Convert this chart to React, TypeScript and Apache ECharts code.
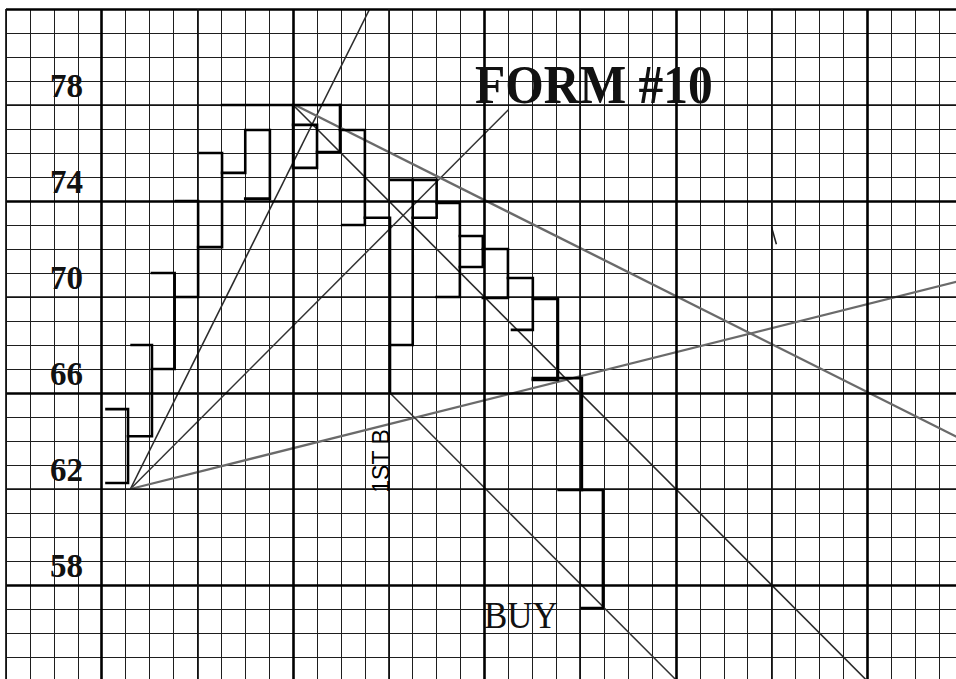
import React, { useEffect, useRef } from "react";
import * as echarts from "echarts";

// price scale tick labels (printed on the form)
const yTickLabels = [58, 62, 66, 70, 74, 78];
// heavy / medium ruling of the chart paper (price units and time units)
const thickPriceLines = [58, 66, 74, 82];
const mediumPriceLines = [54, 62, 70, 78];
const thickTimeLines = [4, 12, 20, 28, 36];
const mediumTimeLines = [0, 8, 16, 24, 32];

// swing bars drawn as bracket outlines: [time, price] points
const swingBars: number[][][] = [
  [[4.2, 65.33], [5.1, 65.33], [5.1, 62.25], [4.2, 62.25]],
  [[5.25, 68], [6.1, 68], [6.1, 64.2], [5.1, 64.2]],
  [[6.1, 71], [7.05, 71], [7.05, 67], [6.1, 67]],
  [[7.1, 74], [8.03, 74], [8.03, 70], [7.05, 70]],
  [[8.1, 76], [9.03, 76], [9.03, 72.08], [8.03, 72.08]],
  [[9.03, 75.17], [10, 75.17], [10, 76.96], [11.03, 76.96], [11.03, 74.1], [10, 74.1]],
  [[9.03, 78], [13.96, 78]],
  [[12, 78], [12, 75.38]],
  [[12, 77.17], [13, 77.17], [13, 75.38], [12, 75.38]],
  [[13.96, 78], [13.96, 76.04], [13, 76.04]],
  [[13.96, 76.96], [15, 76.96], [15, 73], [14.05, 73]],
  [[15, 73.3], [16.05, 73.3], [16.05, 66]],
  [[16.1, 74.88], [18, 74.88], [18, 73.3], [17, 73.3]],
  [[17, 74.88], [17, 68], [16.05, 68]],
  [[18, 73.92], [18.97, 73.92], [18.97, 70], [18, 70]],
  [[18.97, 72.54], [19.93, 72.54], [19.93, 71.25], [18.97, 71.25]],
  [[19.93, 72], [20.98, 72], [20.98, 69.96], [19.93, 69.96]],
  [[20.98, 70.79], [22.02, 70.79], [22.02, 68.63], [21.15, 68.63]],
  [[22.02, 69.92], [23.07, 69.92], [23.07, 66.54], [22.02, 66.54]],
  [[22.02, 66.62], [24.07, 66.62], [24.07, 61.96]],
  [[23.1, 61.96], [24.95, 61.96], [24.95, 57.04], [24.07, 57.04]],
];

// geometric angle lines
const gann2x1Up = [[5.2, 62], [15.2, 82]];
const gann1x1Up = [[5.2, 62], [21, 77.8]];
const gann1x4Up = [[5.2, 62], [40, 70.7]];
const gann1x1Down = [[12, 78], [36, 54]];
const gann1x2Down = [[12.08, 78], [40, 64.04]];
const gann1x1DownSecond = [[16.05, 66], [28, 54.05]];
// stray pen stroke on the sheet
const penMark = [[32.0, 72.9], [32.2, 72.2]];

export default function App() {
  const ref = useRef<HTMLDivElement>(null);
  useEffect(() => {
    const chart = echarts.init(ref.current!, null, { renderer: "svg" });

    const gridLineSeries = {
      type: "line",
      data: [[0, 54]],
      symbol: "none",
      lineStyle: { opacity: 0 },
      silent: true,
      z: 1,
      markLine: {
        silent: true,
        symbol: ["none", "none"],
        label: { show: false },
        emphasis: { disabled: true },
        data: [
          ...thickPriceLines.map((v) => ({ yAxis: v, lineStyle: { color: "#000", width: 2.6, type: "solid" } })),
          ...mediumPriceLines.map((v) => ({ yAxis: v, lineStyle: { color: "#111", width: 1.7, type: "solid" } })),
          ...thickTimeLines.map((v) => ({ xAxis: v, lineStyle: { color: "#000", width: 2.6, type: "solid" } })),
          ...mediumTimeLines.map((v) => ({ xAxis: v, lineStyle: { color: "#111", width: 1.7, type: "solid" } })),
        ],
      },
    };

    const barSeries = swingBars.map((pts) => ({
      type: "line",
      data: pts,
      symbol: "none",
      showSymbol: false,
      silent: true,
      z: 5,
      lineStyle: { color: "#000", width: 2.6, cap: "square", join: "miter" },
    }));

    const mk = (pts: number[][], color: string, width: number) => ({
      type: "line",
      data: pts,
      symbol: "none",
      showSymbol: false,
      silent: true,
      z: 4,
      lineStyle: { color, width },
    });

    const trendSeries = [
      mk(gann2x1Up, "#2a2a2a", 1.6),
      mk(gann1x1Up, "#333", 1.5),
      mk(gann1x4Up, "#6a6a6a", 2.2),
      mk(gann1x1Down, "#2a2a2a", 1.6),
      mk(gann1x2Down, "#6a6a6a", 2.4),
      mk(gann1x1DownSecond, "#333", 1.5),
      mk(penMark, "#222", 1.6),
    ];

    chart.setOption({
      animation: false,
      backgroundColor: "#fff",
      grid: { left: 6, top: 9, width: 957, height: 672, containLabel: false, outerBoundsMode: "none" },
      xAxis: {
        type: "value",
        min: 0,
        max: 40,
        interval: 1,
        axisLine: { show: false },
        axisTick: { show: false },
        axisLabel: { show: false },
        splitLine: { show: true, lineStyle: { color: "#1e1e1e", width: 1 } },
      },
      yAxis: {
        type: "value",
        min: 54,
        max: 82,
        interval: 1,
        axisLine: { show: false },
        axisTick: { show: false },
        axisLabel: {
          inside: true,
          margin: 44,
          align: "left",
          verticalAlign: "bottom",
          padding: [0, 0, 3, 0],
          color: "#111",
          fontFamily: "Liberation Serif",
          fontWeight: "bold",
          fontSize: 33,
          formatter: (v: number) => (yTickLabels.includes(v) ? String(v) : ""),
        },
        splitLine: { show: true, lineStyle: { color: "#1e1e1e", width: 1 } },
      },
      series: [gridLineSeries, ...trendSeries, ...barSeries],
      graphic: [
        {
          type: "text",
          x: 475,
          y: 84,
          scaleX: 0.9,
          z: 10,
          style: {
            text: "FORM #10",
            font: 'bold 55px "Liberation Serif"',
            fill: "#111",
            textAlign: "left",
            textVerticalAlign: "middle",
          },
        },
        {
          type: "text",
          x: 484,
          y: 615,
          scaleX: 0.92,
          z: 10,
          style: {
            text: "BUY",
            font: '38px "Liberation Serif"',
            fill: "#111",
            textAlign: "left",
            textVerticalAlign: "middle",
          },
        },
        {
          type: "text",
          x: 381,
          y: 461,
          rotation: Math.PI / 2,
          z: 10,
          style: {
            text: "1ST B",
            font: '23px "Liberation Sans"',
            fill: "#000",
            textAlign: "center",
            textVerticalAlign: "middle",
          },
        },
      ],
    });
    return () => chart.dispose();
  }, []);
  return (
    <div
      ref={ref}
      style={{ position: "absolute", left: 0, top: 0, width: 956, height: 679, background: "#fff" }}
    />
  );
}
